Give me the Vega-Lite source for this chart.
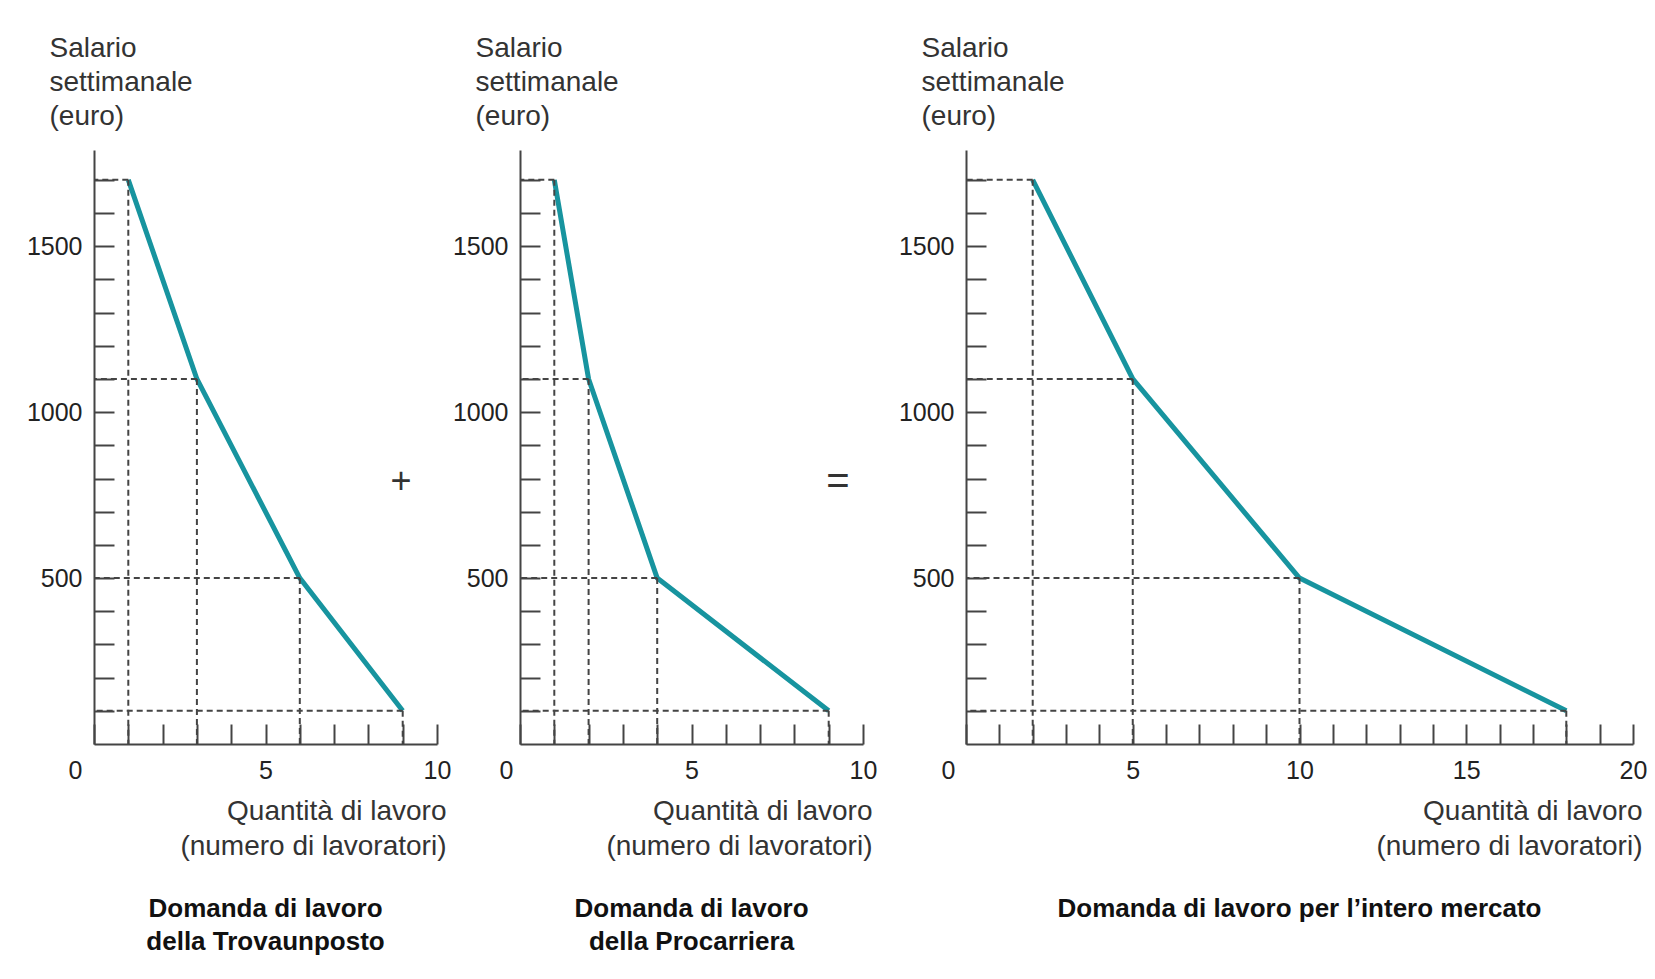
{
  "$schema": "https://vega.github.io/schema/vega-lite/v6.json",
  "padding": {"left": 26, "top": 34, "right": 0, "bottom": 0},
  "background": "white",
  "datasets": {
    "p1": [{"q": 1, "w": 1700}, {"q": 3, "w": 1100}, {"q": 6, "w": 500}, {"q": 9, "w": 100}],
    "p2": [{"q": 1, "w": 1700}, {"q": 2, "w": 1100}, {"q": 4, "w": 500}, {"q": 9, "w": 100}],
    "p3": [{"q": 2, "w": 1700}, {"q": 5, "w": 1100}, {"q": 10, "w": 500}, {"q": 18, "w": 100}]
  },
  "config": {
    "view": {"stroke": null},
    "axis": {
      "grid": false, "domainColor": "#444", "domainWidth": 2, "tickColor": "#444", "tickWidth": 2, "tickSize": -20,
      "labelFont": "Liberation Sans, Arial", "labelFontSize": 25, "labelColor": "#222",
      "labelFlush": false, "labelOverlap": false, "labelBound": false,
      "titleFont": "Liberation Sans, Arial", "titleFontSize": 28, "titleFontWeight": "normal", "titleColor": "#333"
    },
    "axisX": {"labelPadding": 34},
    "axisY": {"labelPadding": 32},
    "title": {"font": "Liberation Sans, Arial", "fontSize": 26, "fontWeight": "bold", "color": "#111", "orient": "bottom", "anchor": "middle", "lineHeight": 33, "offset": 36, "baseline": "top"}
  },
  "bounds": "flush",
  "spacing": 83,
  "hconcat": [
    {
      "width": 343, "height": 594,
      "data": {"name": "p1"},
      "title": {"text": ["Domanda di lavoro", "della Trovaunposto"]},
      "layer": [
        {
          "mark": {"type": "line", "color": "#17949f", "strokeWidth": 5, "strokeJoin": "round"},
          "encoding": {
            "x": {"field": "q", "type": "quantitative", "scale": {"domain": [0, 10], "nice": false, "zero": false},
              "axis": {"values": [0,1,2,3,4,5,6,7,8,9,10], "tickCount": 200, "format": "d", "labelExpr": "datum.value % 5 === 0 ? datum.label : ''", "labelOverlap": false,
                "labelOffset": {"condition": {"test": "datum.value === 0", "value": -19}, "value": 0},
                "title": ["Quantità di lavoro", "(numero di lavoratori)"], "titleAlign": "right", "titleBaseline": "top", "titleX": 352, "titleY": 53, "titleLineHeight": 35}},
            "y": {"field": "w", "type": "quantitative", "scale": {"domain": [0, 1790], "nice": false},
              "axis": {"values": [100,200,300,400,500,600,700,800,900,1000,1100,1200,1300,1400,1500,1600,1700], "tickCount": 200, "format": "d", "labelOverlap": false,
                "labelExpr": "datum.value % 500 === 0 ? datum.label : ''",
                "title": ["Salario", "settimanale", "(euro)"], "titleAngle": 0, "titleAlign": "left", "titleBaseline": "top", "titleX": -45, "titleY": -116, "titleLineHeight": 34}},
            "order": {"field": "q", "type": "quantitative"}
          }
        },
        {
          "mark": {"type": "rule", "strokeDash": [6, 4], "strokeWidth": 2, "color": "#444"},
          "encoding": {
            "x": {"field": "q", "type": "quantitative"},
            "y": {"field": "w", "type": "quantitative"},
            "y2": {"datum": 0}
          }
        },
        {
          "mark": {"type": "rule", "strokeDash": [6, 4], "strokeWidth": 2, "color": "#444"},
          "encoding": {
            "y": {"field": "w", "type": "quantitative"},
            "x": {"field": "q", "type": "quantitative"},
            "x2": {"datum": 0}
          }
        },
        {
          "data": {"values": [{"s": "+", "q": 8.95, "w": 790}]},
          "mark": {"type": "text", "font": "Liberation Sans, Arial", "fontSize": 36, "color": "#333", "align": "center", "baseline": "middle"},
          "encoding": {
            "x": {"field": "q", "type": "quantitative"},
            "y": {"field": "w", "type": "quantitative"},
            "text": {"field": "s", "type": "nominal"}
          }
        }
      ]
    },
    {
      "width": 363, "height": 594,
      "data": {"name": "p2"},
      "title": {"text": ["Domanda di lavoro", "della Procarriera"], "anchor": "middle", "dx": -10},
      "layer": [
        {
          "mark": {"type": "line", "color": "#17949f", "strokeWidth": 5, "strokeJoin": "round"},
          "encoding": {
            "x": {"field": "q", "type": "quantitative", "scale": {"domain": [0, 10], "nice": false, "zero": false, "range": [0, 343]},
              "axis": {"values": [0,1,2,3,4,5,6,7,8,9,10], "tickCount": 200, "format": "d", "labelExpr": "datum.value % 5 === 0 ? datum.label : ''", "labelOverlap": false,
                "labelOffset": {"condition": {"test": "datum.value === 0", "value": -14}, "value": 0},
                "title": ["Quantità di lavoro", "(numero di lavoratori)"], "titleAlign": "right", "titleBaseline": "top", "titleX": 352, "titleY": 53, "titleLineHeight": 35}},
            "y": {"field": "w", "type": "quantitative", "scale": {"domain": [0, 1790], "nice": false},
              "axis": {"values": [100,200,300,400,500,600,700,800,900,1000,1100,1200,1300,1400,1500,1600,1700], "tickCount": 200, "format": "d", "labelOverlap": false,
                "labelExpr": "datum.value % 500 === 0 ? datum.label : ''",
                "title": ["Salario", "settimanale", "(euro)"], "titleAngle": 0, "titleAlign": "left", "titleBaseline": "top", "titleX": -45, "titleY": -116, "titleLineHeight": 34}},
            "order": {"field": "q", "type": "quantitative"}
          }
        },
        {
          "mark": {"type": "rule", "strokeDash": [6, 4], "strokeWidth": 2, "color": "#444"},
          "encoding": {
            "x": {"field": "q", "type": "quantitative"},
            "y": {"field": "w", "type": "quantitative"},
            "y2": {"datum": 0}
          }
        },
        {
          "mark": {"type": "rule", "strokeDash": [6, 4], "strokeWidth": 2, "color": "#444"},
          "encoding": {
            "y": {"field": "w", "type": "quantitative"},
            "x": {"field": "q", "type": "quantitative"},
            "x2": {"datum": 0}
          }
        },
        {
          "data": {"values": [{"s": "=", "q": 9.27, "w": 790}]},
          "mark": {"type": "text", "font": "Liberation Sans, Arial", "fontSize": 40, "color": "#333", "align": "center", "baseline": "middle"},
          "encoding": {
            "x": {"field": "q", "type": "quantitative"},
            "y": {"field": "w", "type": "quantitative"},
            "text": {"field": "s", "type": "nominal"}
          }
        }
      ]
    },
    {
      "width": 667, "height": 594,
      "data": {"name": "p3"},
      "title": {"text": "Domanda di lavoro per l’intero mercato"},
      "layer": [
        {
          "mark": {"type": "line", "color": "#17949f", "strokeWidth": 5, "strokeJoin": "round"},
          "encoding": {
            "x": {"field": "q", "type": "quantitative", "scale": {"domain": [0, 20], "nice": false, "zero": false},
              "axis": {"values": [0,1,2,3,4,5,6,7,8,9,10,11,12,13,14,15,16,17,18,19,20], "tickCount": 200, "format": "d", "labelExpr": "datum.value % 5 === 0 ? datum.label : ''", "labelOverlap": false,
                "labelOffset": {"condition": {"test": "datum.value === 0", "value": -18}, "value": 0},
                "title": ["Quantità di lavoro", "(numero di lavoratori)"], "titleAlign": "right", "titleBaseline": "top", "titleX": 676, "titleY": 53, "titleLineHeight": 35}},
            "y": {"field": "w", "type": "quantitative", "scale": {"domain": [0, 1790], "nice": false},
              "axis": {"values": [100,200,300,400,500,600,700,800,900,1000,1100,1200,1300,1400,1500,1600,1700], "tickCount": 200, "format": "d", "labelOverlap": false,
                "labelExpr": "datum.value % 500 === 0 ? datum.label : ''",
                "title": ["Salario", "settimanale", "(euro)"], "titleAngle": 0, "titleAlign": "left", "titleBaseline": "top", "titleX": -45, "titleY": -116, "titleLineHeight": 34}},
            "order": {"field": "q", "type": "quantitative"}
          }
        },
        {
          "mark": {"type": "rule", "strokeDash": [6, 4], "strokeWidth": 2, "color": "#444"},
          "encoding": {
            "x": {"field": "q", "type": "quantitative"},
            "y": {"field": "w", "type": "quantitative"},
            "y2": {"datum": 0}
          }
        },
        {
          "mark": {"type": "rule", "strokeDash": [6, 4], "strokeWidth": 2, "color": "#444"},
          "encoding": {
            "y": {"field": "w", "type": "quantitative"},
            "x": {"field": "q", "type": "quantitative"},
            "x2": {"datum": 0}
          }
        }
      ]
    }
  ]
}
